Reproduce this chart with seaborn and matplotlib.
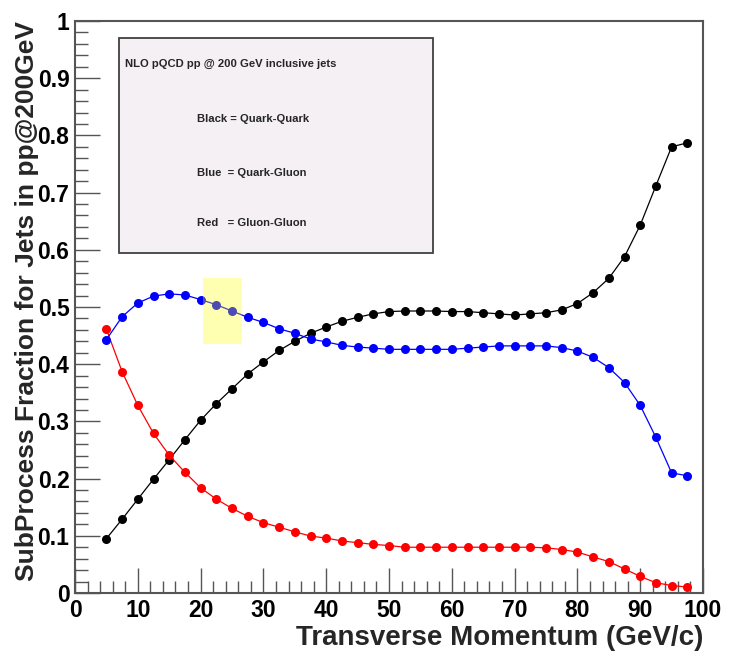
import numpy as np
import pandas as pd
import matplotlib
matplotlib.use("Agg")
import matplotlib.pyplot as plt
from matplotlib.patches import Rectangle
from matplotlib.ticker import MultipleLocator, FuncFormatter
import seaborn as sns

# ---- data ----
pt = [5, 7.5, 10, 12.5, 15, 17.5, 20, 22.5, 25, 27.5, 30, 32.5, 35, 37.5, 40,
      42.5, 45, 47.5, 50, 52.5, 55, 57.5, 60, 62.5, 65, 67.5, 70, 72.5, 75,
      77.5, 80, 82.5, 85, 87.5, 90, 92.5, 95, 97.5]

quark_quark = [0.095, 0.129, 0.164, 0.199, 0.233, 0.268, 0.302, 0.331, 0.357,
               0.383, 0.404, 0.424, 0.440, 0.454, 0.465, 0.475, 0.482, 0.488,
               0.492, 0.493, 0.493, 0.493, 0.492, 0.492, 0.490, 0.488, 0.486,
               0.488, 0.490, 0.495, 0.506, 0.525, 0.550, 0.588, 0.643, 0.712,
               0.780, 0.787]

quark_gluon = [0.443, 0.483, 0.507, 0.519, 0.523, 0.521, 0.513, 0.504, 0.493,
               0.482, 0.473, 0.462, 0.454, 0.444, 0.439, 0.433, 0.430, 0.428,
               0.426, 0.426, 0.426, 0.426, 0.426, 0.428, 0.430, 0.432, 0.432,
               0.432, 0.432, 0.429, 0.423, 0.412, 0.394, 0.368, 0.328, 0.272,
               0.210, 0.205]

gluon_gluon = [0.461, 0.387, 0.328, 0.279, 0.241, 0.211, 0.184, 0.164, 0.148,
               0.134, 0.123, 0.115, 0.107, 0.0995, 0.096, 0.091, 0.088, 0.085,
               0.083, 0.080, 0.080, 0.080, 0.080, 0.080, 0.080, 0.080, 0.080,
               0.080, 0.079, 0.076, 0.0716, 0.063, 0.055, 0.042, 0.029, 0.018,
               0.013, 0.0105]

title_text = "NLO pQCD pp @ 200 GeV inclusive jets"
legend_lines = ["Black = Quark-Quark", "Blue  = Quark-Gluon", "Red   = Gluon-Gluon"]
xlabel = "Transverse Momentum (GeV/c)"
ylabel = "SubProcess Fraction for Jets in pp@200GeV"

# ---- style ----
sns.set_theme(style="white")
plt.rcParams["font.family"] = ["Liberation Sans", "DejaVu Sans"]
plt.rcParams["font.weight"] = "bold"

fig = plt.figure(figsize=(7.29, 6.51), dpi=100)
ax = fig.add_axes([75 / 729, (651 - 593) / 651, 628 / 729, 572 / 651])

frame_col = "#555555"

series = [(quark_quark, "black"), (gluon_gluon, "#ff0000"), (quark_gluon, "#0000ff")]
for vals, col in series:
    df = pd.DataFrame({"pt": pt, "frac": vals})
    sns.lineplot(data=df, x="pt", y="frac", ax=ax, color=col, linewidth=0.9,
                 marker="o", markersize=6.5, markeredgewidth=0,
                 markerfacecolor=col, zorder=3)

# highlight box
ax.add_patch(Rectangle((20.4, 0.436), 6.2, 0.114, facecolor=(1, 1, 0),
                       alpha=0.3, edgecolor="none", zorder=5))

# info box
ax.add_patch(Rectangle((7.0, 0.595), 50.0, 0.375, facecolor="#f4f0f4",
                       edgecolor="#404040", linewidth=1.3, zorder=4))
ax.text(8.0, 0.925, title_text, fontsize=8.1, fontweight="bold",
        va="center", ha="left", zorder=6)
for ytxt, s in zip([0.829, 0.735, 0.646], legend_lines):
    ax.text(19.4, ytxt, s, fontsize=8.1, fontweight="bold",
            va="center", ha="left", zorder=6)

# axes
ax.set_xlim(0, 100)
ax.set_ylim(0, 1)
ax.xaxis.set_major_locator(MultipleLocator(10))
ax.xaxis.set_minor_locator(MultipleLocator(2))
ax.yaxis.set_major_locator(MultipleLocator(0.1))
ax.yaxis.set_minor_locator(MultipleLocator(0.02))
ax.yaxis.set_major_formatter(FuncFormatter(lambda v, p: "%g" % round(v, 2)))

ax.tick_params(which="both", direction="in", colors=frame_col,
               labelcolor="black", top=False, right=False,
               bottom=True, left=True, width=1.0)
ax.tick_params(which="major", length=18, labelsize=16.5, pad=4)
ax.tick_params(which="minor", length=9)
for lab in ax.get_xticklabels() + ax.get_yticklabels():
    lab.set_fontweight("bold")

for sp in ax.spines.values():
    sp.set_color(frame_col)
    sp.set_linewidth(1.5)
    sp.set_visible(True)

ax.set_xlabel(xlabel, fontsize=20, fontweight="bold", loc="right")
ax.xaxis.set_label_coords(1.0, -0.056)
ax.set_ylabel(ylabel, fontsize=19, fontweight="bold", loc="top")
ax.yaxis.set_label_coords(-0.058, 1.0)

fig.savefig("out.png", dpi=100, facecolor="white")
